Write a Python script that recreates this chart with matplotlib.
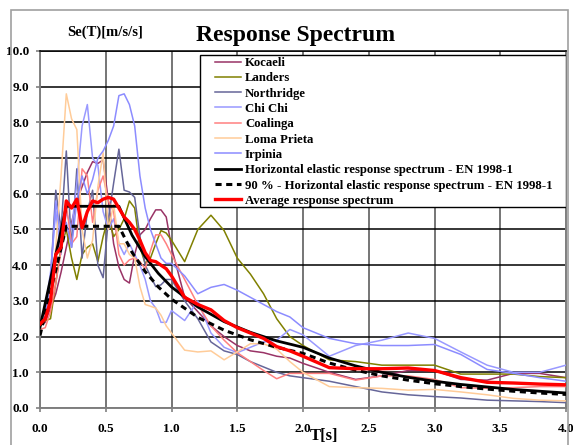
import matplotlib
matplotlib.use("Agg")
import matplotlib.pyplot as plt
from matplotlib.patches import Rectangle

plt.rcParams["font.family"] = ["Liberation Serif", "DejaVu Serif"]
plt.rcParams["font.weight"] = "bold"

# period grid shared by the records and the average
T = [0.0, 0.04, 0.08, 0.12, 0.16, 0.2, 0.24, 0.28, 0.32, 0.36, 0.4, 0.44, 0.48,
     0.52, 0.56, 0.6, 0.64, 0.68, 0.72, 0.76, 0.8, 0.84, 0.88, 0.92, 0.96, 1.0,
     1.1, 1.2, 1.3, 1.4, 1.5, 1.6, 1.7, 1.8, 1.9, 2.0,
     2.2, 2.4, 2.6, 2.8, 3.0, 3.2, 3.4, 3.6, 3.8, 4.0]

kocaeli = [2.3, 2.4, 2.8, 3.2, 3.8, 4.5, 5.2, 5.8, 6.2, 6.6, 6.9, 6.85, 6.95,
           5.8, 4.6, 3.95, 3.6, 3.5, 4.3, 4.85, 5.0, 5.3, 5.55, 5.55, 5.35, 4.5,
           3.1, 2.7, 2.3, 2.0, 1.75, 1.6, 1.55, 1.45, 1.4, 1.25,
           1.0, 0.8, 0.9, 1.05, 1.05, 0.8, 0.78, 0.97, 0.97, 0.85]
landers = [2.3, 2.45, 2.5, 3.5, 4.5, 5.0, 4.2, 3.6, 4.3, 4.5, 4.6, 4.1, 4.8,
           5.35, 4.8, 5.0, 5.3, 5.8, 5.6, 4.5, 4.05, 4.2, 4.6, 4.97, 4.9, 4.7,
           4.1, 5.0, 5.4, 4.97, 4.2, 3.75, 3.2, 2.5, 2.0, 1.75,
           1.35, 1.3, 1.2, 1.2, 1.2, 0.95, 0.95, 0.95, 0.88, 0.85]
northridge = [2.3, 2.5, 3.6, 6.1, 5.0, 7.2, 4.5, 6.7, 4.2, 5.5, 6.1, 4.0, 3.65,
              5.3, 6.3, 7.25, 6.1, 6.05, 5.9, 4.8, 4.0, 3.7, 3.4, 3.45, 3.6, 3.6,
              3.0, 2.5, 1.85, 1.6, 1.5, 1.3, 1.15, 1.0, 0.9, 0.85,
              0.75, 0.6, 0.45, 0.37, 0.32, 0.28, 0.22, 0.2, 0.18, 0.15]
chichi = [2.3, 2.8, 3.8, 5.5, 4.3, 5.5, 5.0, 6.3, 7.9, 8.5, 7.0, 6.8, 5.5,
          5.0, 5.3, 4.6, 4.3, 4.6, 4.3, 4.0, 3.6, 3.0, 2.8, 2.4, 2.4, 2.73,
          2.45, 3.0, 2.1, 1.7, 1.55, 1.7, 1.85, 1.9, 2.2, 2.05,
          1.45, 1.75, 1.9, 2.1, 1.95, 1.57, 1.2, 1.0, 1.0, 1.2]
coalinga = [2.2, 2.25, 2.7, 3.5, 4.4, 5.7, 4.6, 4.8, 6.7, 6.5, 5.2, 6.1, 6.5,
            5.8, 5.5, 4.3, 4.0, 4.15, 4.2, 4.1, 3.9, 4.4, 4.85, 4.85, 4.6, 4.3,
            3.6, 2.9, 2.3, 1.9, 1.55, 1.3, 1.05, 0.82, 0.97, 0.97,
            0.97, 0.78, 0.9, 0.9, 0.8, 0.57, 0.55, 0.57, 0.6, 0.6]
loma_prieta = [2.3, 2.6, 3.2, 4.5, 6.5, 8.8, 8.1, 7.8, 5.0, 4.2, 4.7, 6.2, 7.15,
               5.0, 5.7, 4.6, 4.6, 4.3, 4.2, 3.4, 2.9, 2.85, 2.8, 2.6, 2.3, 2.1,
               1.62, 1.57, 1.6, 1.35, 1.57, 1.8, 1.8, 1.65, 1.3, 1.0,
               0.6, 0.57, 0.55, 0.5, 0.52, 0.45, 0.37, 0.27, 0.22, 0.2]
irpinia = [2.3, 2.6, 3.6, 5.8, 4.7, 5.2, 4.5, 5.8, 6.5, 6.0, 6.4, 7.0, 7.2,
           7.5, 7.9, 8.75, 8.8, 8.5, 7.9, 6.5, 5.6, 5.0, 4.6, 4.2, 4.05, 4.05,
           3.7, 3.2, 3.38, 3.46, 3.3, 3.1, 2.9, 2.7, 2.55, 2.25,
           1.95, 1.8, 1.75, 1.75, 1.78, 1.5, 1.08, 0.97, 0.85, 0.75]
average = [2.35, 2.5, 3.0, 4.3, 4.5, 5.8, 5.6, 5.85, 5.05, 5.5, 5.8, 5.75, 5.85,
           5.9, 5.85, 5.6, 5.35, 5.2, 5.0, 4.7, 4.35, 4.13, 4.1, 4.0, 3.9, 3.7,
           3.1, 2.9, 2.75, 2.45, 2.25, 2.1, 1.95, 1.72, 1.6, 1.45,
           1.13, 1.1, 1.1, 1.12, 1.05, 0.85, 0.72, 0.7, 0.67, 0.65]

# EN 1998-1 design spectrum
T_ec8 = [0.0, 0.2, 0.6, 0.7, 0.8, 0.9, 1.0, 1.2, 1.4, 1.6, 1.8, 2.0,
         2.2, 2.4, 2.6, 2.8, 3.0, 3.2, 3.4, 3.6, 3.8, 4.0]
ec8 = [2.26, 5.65, 5.65, 4.84, 4.24, 3.77, 3.39, 2.83, 2.42, 2.12, 1.88, 1.70,
       1.40, 1.18, 1.00, 0.86, 0.75, 0.66, 0.59, 0.52, 0.47, 0.42]
ec8_90 = [2.03, 5.09, 5.09, 4.36, 3.82, 3.39, 3.05, 2.54, 2.18, 1.91, 1.70, 1.53,
          1.26, 1.06, 0.90, 0.78, 0.68, 0.60, 0.53, 0.47, 0.42, 0.38]

records = [
    ("Kocaeli", kocaeli, "#993366"),
    ("Landers", landers, "#808000"),
    ("Northridge", northridge, "#666699"),
    ("Chi Chi", chichi, "#9999FF"),
    ("Coalinga", coalinga, "#FF8080"),
    ("Loma Prieta", loma_prieta, "#FFCC99"),
    ("Irpinia", irpinia, "#8C8CFF"),
]

W, H = 573, 445
fig = plt.figure(figsize=(W / 100, H / 100), dpi=100)
ax = fig.add_axes([40 / W, 1 - 408 / H, 526 / W, 357 / H])

for name, vals, col in records:
    ax.plot(T, vals, color=col, lw=1.1, label=name, zorder=3)
ax.plot(T_ec8, ec8, color="black", lw=2.0, zorder=4,
        label="Horizontal elastic response spectrum - EN 1998-1")
ax.plot(T_ec8, ec8_90, color="black", lw=2.2, ls=(0, (2.0, 1.5)), zorder=4,
        label="90 % - Horizontal elastic response spectrum - EN 1998-1")
ax.plot(T, average, color="red", lw=2.4, zorder=5, label="Average response spectrum")

ax.set_xlim(0, 4.0)
ax.set_ylim(0, 10.0)
ax.set_xticks([0.0, 0.5, 1.0, 1.5, 2.0, 2.5, 3.0, 3.5, 4.0])
ax.set_yticks(range(11))
ax.xaxis.set_major_formatter(matplotlib.ticker.FormatStrFormatter("%.1f"))
ax.yaxis.set_major_formatter(matplotlib.ticker.FormatStrFormatter("%.1f"))
ax.tick_params(axis="both", labelsize=9.5, length=3, color="#808080", width=1.2)
ax.tick_params(axis="x", pad=8)
ax.tick_params(axis="y", pad=5)
ax.yaxis.grid(True, color="black", lw=1.1)
ax.xaxis.grid(True, color="#505050", lw=1.1)
ax.set_axisbelow(True)
for side in ["left", "bottom", "right"]:
    ax.spines[side].set_color("#808080")
    ax.spines[side].set_linewidth(1.4)
ax.spines["top"].set_color("black")
ax.spines["top"].set_linewidth(1.1)

# legend box drawn by hand so the handles can sit inset like the original
lx0, ly0 = 200, 55
lx1, ly1 = 566, 207
ax.add_patch(Rectangle(((lx0 - 40) / 526, (408 - ly1) / 357),
                       (lx1 - lx0) / 526, (ly1 - ly0) / 357,
                       transform=ax.transAxes, facecolor="white",
                       edgecolor="black", lw=1.0, zorder=6))
leg = ax.legend(loc="upper left", bbox_to_anchor=((215 - 40) / 526, (408 - 57) / 357),
                frameon=False, fontsize=9.2, borderpad=0, borderaxespad=0,
                handlelength=2.0, handletextpad=0.35, labelspacing=0.26)
leg.set_zorder(7)

fig.text(0.515, 1 - 35 / H, "Response Spectrum", ha="center", va="center",
         fontsize=17, fontweight="bold")
fig.text(105 / W, 1 - 32 / H, "Se(T)[m/s/s]", ha="center", va="center",
         fontsize=10.5, fontweight="bold")
fig.text(324 / W, 1 - 436 / H, "T[s]", ha="center", va="center",
         fontsize=12, fontweight="bold")

# thin grey outer frame of the chart area
fig.add_artist(Rectangle((11 / W, -0.05), (568 - 11) / W, 0.05 + 1 - 10 / H,
                         transform=fig.transFigure, fill=False,
                         edgecolor="#a0a0a0", lw=1.2))

fig.savefig("out.png", dpi=100)
